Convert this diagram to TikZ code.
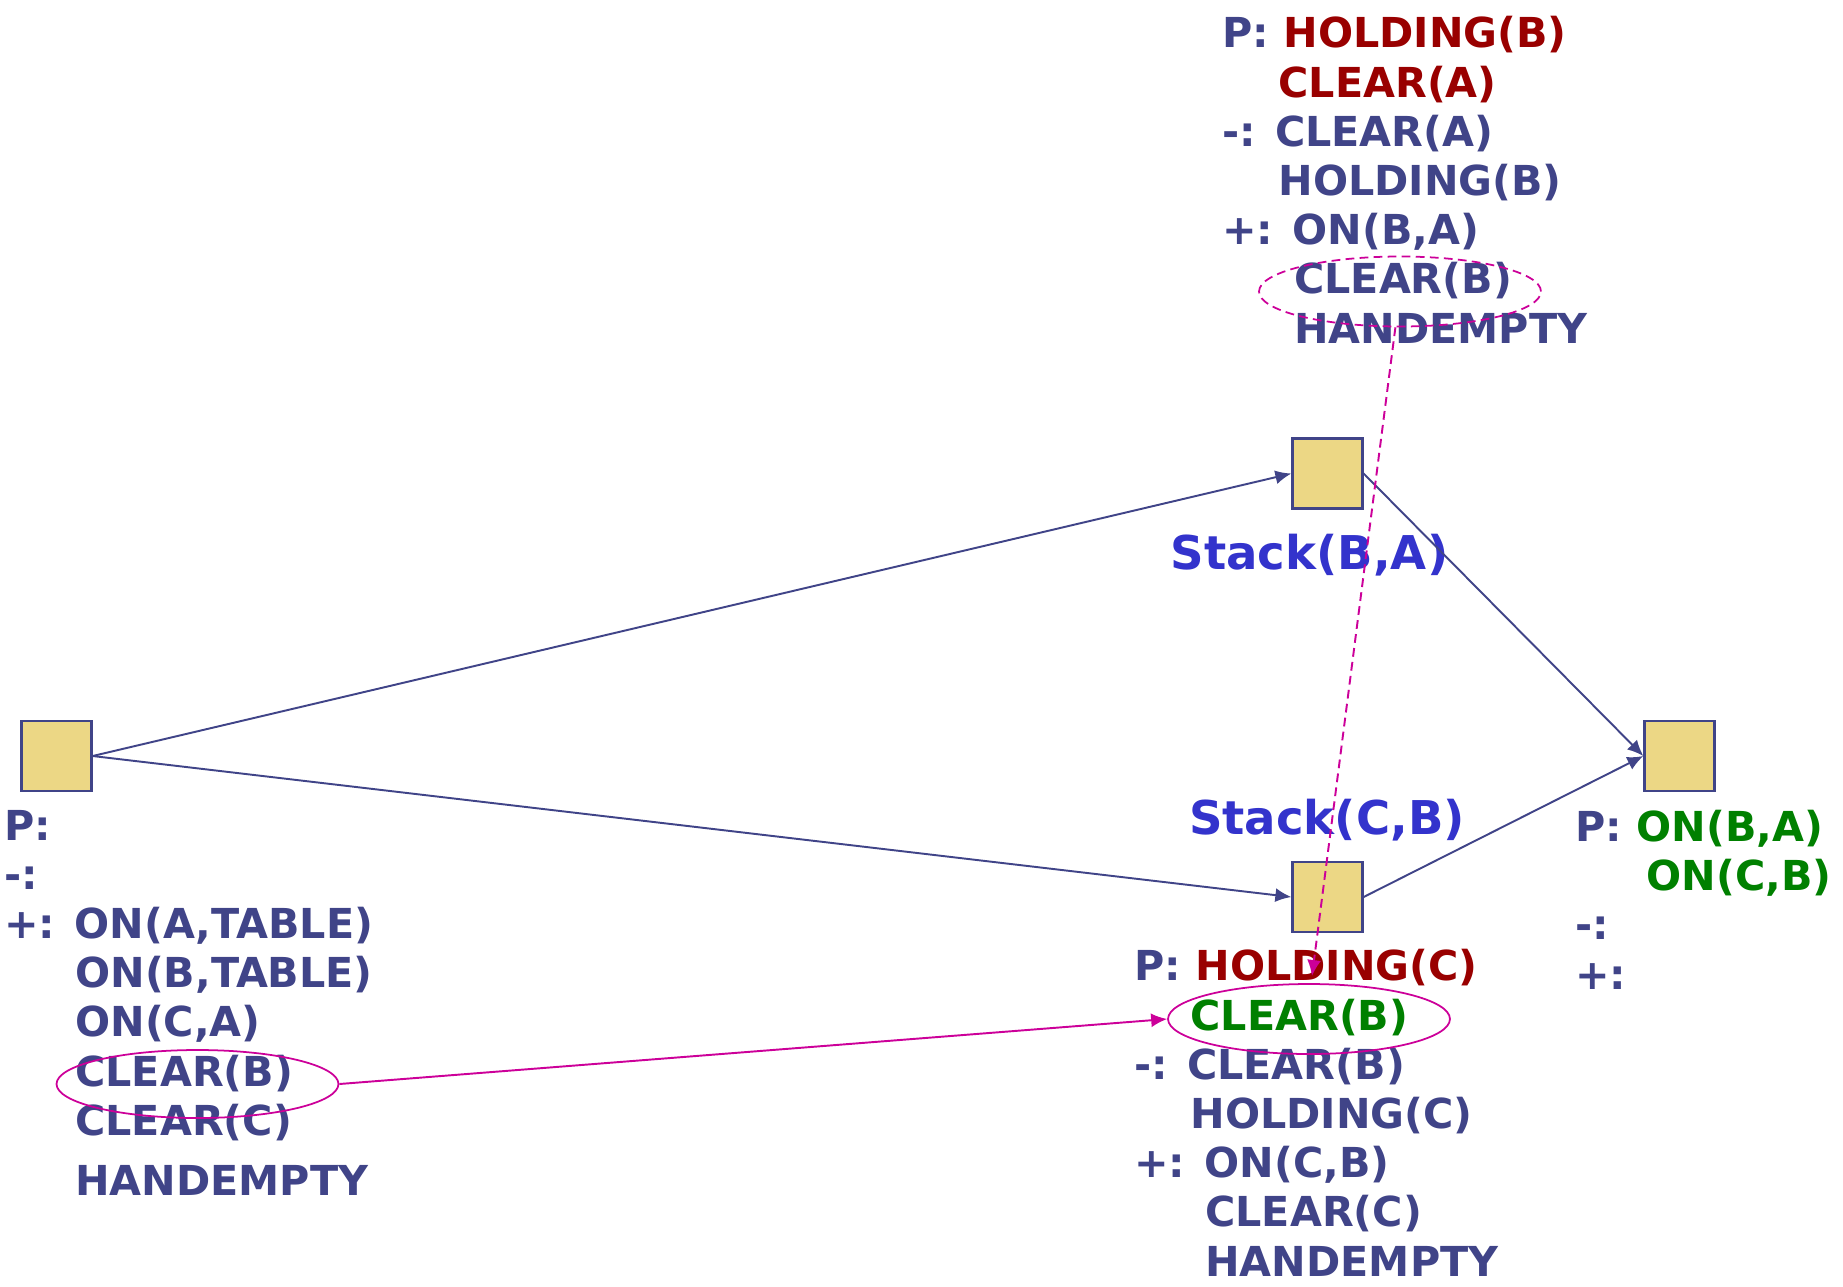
\documentclass[tikz,border=0pt]{standalone}
\usepackage{fontspec}
\setmainfont{DejaVu Sans}
\usepackage{tikz}
\usetikzlibrary{arrows.meta,shapes.geometric}

\definecolor{txtblue}{RGB}{64,68,136}
\definecolor{pred}{RGB}{153,0,0}
\definecolor{pgreen}{RGB}{0,128,0}
\definecolor{opblue}{RGB}{51,51,204}
\definecolor{linkpink}{RGB}{204,0,153}
\definecolor{boxfill}{RGB}{236,215,133}

\tikzset{
    state/.style={rectangle, draw=txtblue, fill=boxfill, line width=1.3pt, minimum size=1.4cm, inner sep=0pt},
    effects/.style={anchor=base west, align=left, inner sep=0pt, text=txtblue, font=\bfseries\fontsize{23.5}{28}\selectfont},
    opname/.style={anchor=base, inner sep=0pt, text=opblue, font=\bfseries\fontsize{26.5}{30}\selectfont},
    link/.style={ellipse, draw=linkpink, line width=1pt, minimum width=5.64cm, minimum height=1.4cm, inner sep=0pt},
    pinkdash/.style={dash pattern=on 5pt off 3pt},
    order/.style={draw=txtblue, line width=1.1pt, -{Latex[length=0.32cm,width=0.28cm]}},
    causal/.style={draw=linkpink, line width=1.1pt, -{Latex[length=0.32cm,width=0.28cm]}}
}

\begin{document}
\begin{tikzpicture}[x=0.02cm, y=-0.02cm]
    \useasboundingbox (0,0) rectangle (1843,1286);

    \node at (56.5,756) [state] (S0) {};
    \node at (1327.5,473.5) [state] (S1) {};
    \node at (1327.5,897) [state] (S2) {};
    \node at (1679.5,756) [state] (SG) {};

    \node at (1309.5,569) [opname] (L1) {Stack(B,A)};
    \node at (1327,834) [opname] (L2) {Stack(C,B)};

    % base anchor sits on the last line
    \node at (4,1195) [effects] (E0) {P:\\ -:\\ +: ON(A,TABLE)\\
        \hspace*{1.72em}ON(B,TABLE)\\ \hspace*{1.72em}ON(C,A)\\
        \hspace*{1.72em}CLEAR(B)\\ \hspace*{1.72em}CLEAR(C)\\[6pt]
        \hspace*{1.72em}HANDEMPTY};
    \node at (1222,343) [effects] (E1) {P: \textcolor{pred}{HOLDING(B)}\\
        \hspace*{1.36em}\textcolor{pred}{CLEAR(A)}\\ -: CLEAR(A)\\
        \hspace*{1.36em}HOLDING(B)\\ +: ON(B,A)\\
        \hspace*{1.74em}CLEAR(B)\\ \hspace*{1.74em}HANDEMPTY};
    \node at (1134,1276) [effects] (E2) {P: \textcolor{pred}{HOLDING(C)}\\
        \hspace*{1.36em}\textcolor{pgreen}{CLEAR(B)}\\ -: CLEAR(B)\\
        \hspace*{1.36em}HOLDING(C)\\ +: ON(C,B)\\
        \hspace*{1.72em}CLEAR(C)\\ \hspace*{1.72em}HANDEMPTY};
    \node at (1575,989) [effects] (EG) {P: \textcolor{pgreen}{ON(B,A)}\\
        \hspace*{1.73em}\textcolor{pgreen}{ON(C,B)}\\ -:\\ +:};

    \node at (197.5,1084) [link, minimum height=1.36cm] (C0) {};
    \node at (1400,291.5) [link, pinkdash] (C1) {};
    \node at (1309,1019) [link] (C2) {};
    \coordinate (T2) at (1312,976);

    \draw[order] (S0.east) -- (S1.west);
    \draw[order] (S0.east) -- (S2.west);
    \draw[order] (S1.east) -- (SG.west);
    \draw[order] (S2.east) -- (SG.west);

    \draw[causal] (C0.east) -- (C2.west);
    \draw[causal, pinkdash] (C1) -- (T2);
\end{tikzpicture}
\end{document}
